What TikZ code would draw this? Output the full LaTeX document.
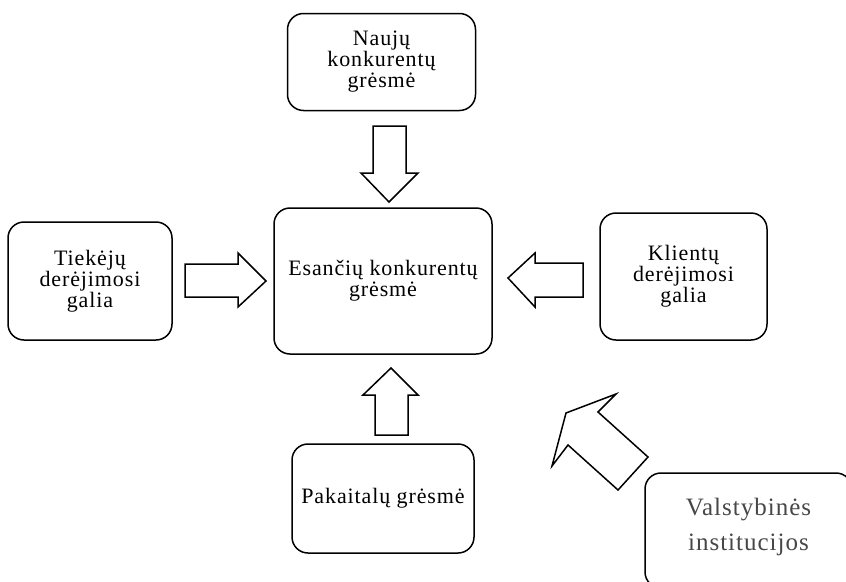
\documentclass[tikz,border=0pt]{standalone}
\usepackage{fontspec}
\setmainfont{Liberation Serif}
\newfontfamily\boxfont[LetterSpace=4]{Liberation Serif}
\newfontfamily\statefont[LetterSpace=4]{Liberation Serif}
\begin{document}
\begin{tikzpicture}[x=1pt,y=-1pt,
  box/.style={draw, line width=1.5pt, rounded corners=16pt, align=center, inner sep=0pt,
    font=\boxfont\fontsize{22}{21}\selectfont},
  blockarrow/.style={draw, line width=1.5pt, fill=white, line join=miter}]
\useasboundingbox (0,0) rectangle (846,581);
\clip (0,0) rectangle (846,581);
% boxes
\node[box, minimum width=188pt, minimum height=97pt] (top) at (381.5,62) {Naujų\\konkurentų\\grėsmė};
\node[box, minimum width=218pt, minimum height=146pt] (mid) at (383,281) {Esančių konkurentų\\grėsmė};
\node[box, minimum width=164pt, minimum height=118pt] (left) at (90,281) {Tiekėjų\\derėjimosi\\galia};
\node[box, minimum width=167pt, minimum height=127pt] (right) at (683.5,276.5) {Klientų\\derėjimosi\\galia};
\node[box, minimum width=182pt, minimum height=109pt] (bottom) at (383,498.5) {Pakaitalų grėsmė};
\node[box, minimum width=207pt, minimum height=115pt] (state) at (748.5,530.5) {};
\node[text=black!72, align=center, font=\statefont\fontsize{25}{35}\selectfont] (statetext) at (748.5,527) {Valstybinės\\institucijos};
% block arrows
\draw[blockarrow] (373,126) -- (406,126) -- (406,173) -- (418,173) -- (389,202) -- (361,173) -- (373,173) -- cycle;
\draw[blockarrow] (185,264) -- (238,264) -- (238,253) -- (266,281) -- (238,307) -- (238,297) -- (185,297) -- cycle;
\draw[blockarrow] (583,263) -- (535,263) -- (535,253) -- (508,278) -- (535,307) -- (535,297) -- (583,297) -- cycle;
\draw[blockarrow] (375,435) -- (375,395) -- (363,395) -- (391,368) -- (418,395) -- (408,395) -- (408,435) -- cycle;
\draw[blockarrow] (566,413) -- (616,394) -- (598,412) -- (648,457) -- (618,490) -- (568,445) -- (552,466) -- cycle;
\end{tikzpicture}
\end{document}
